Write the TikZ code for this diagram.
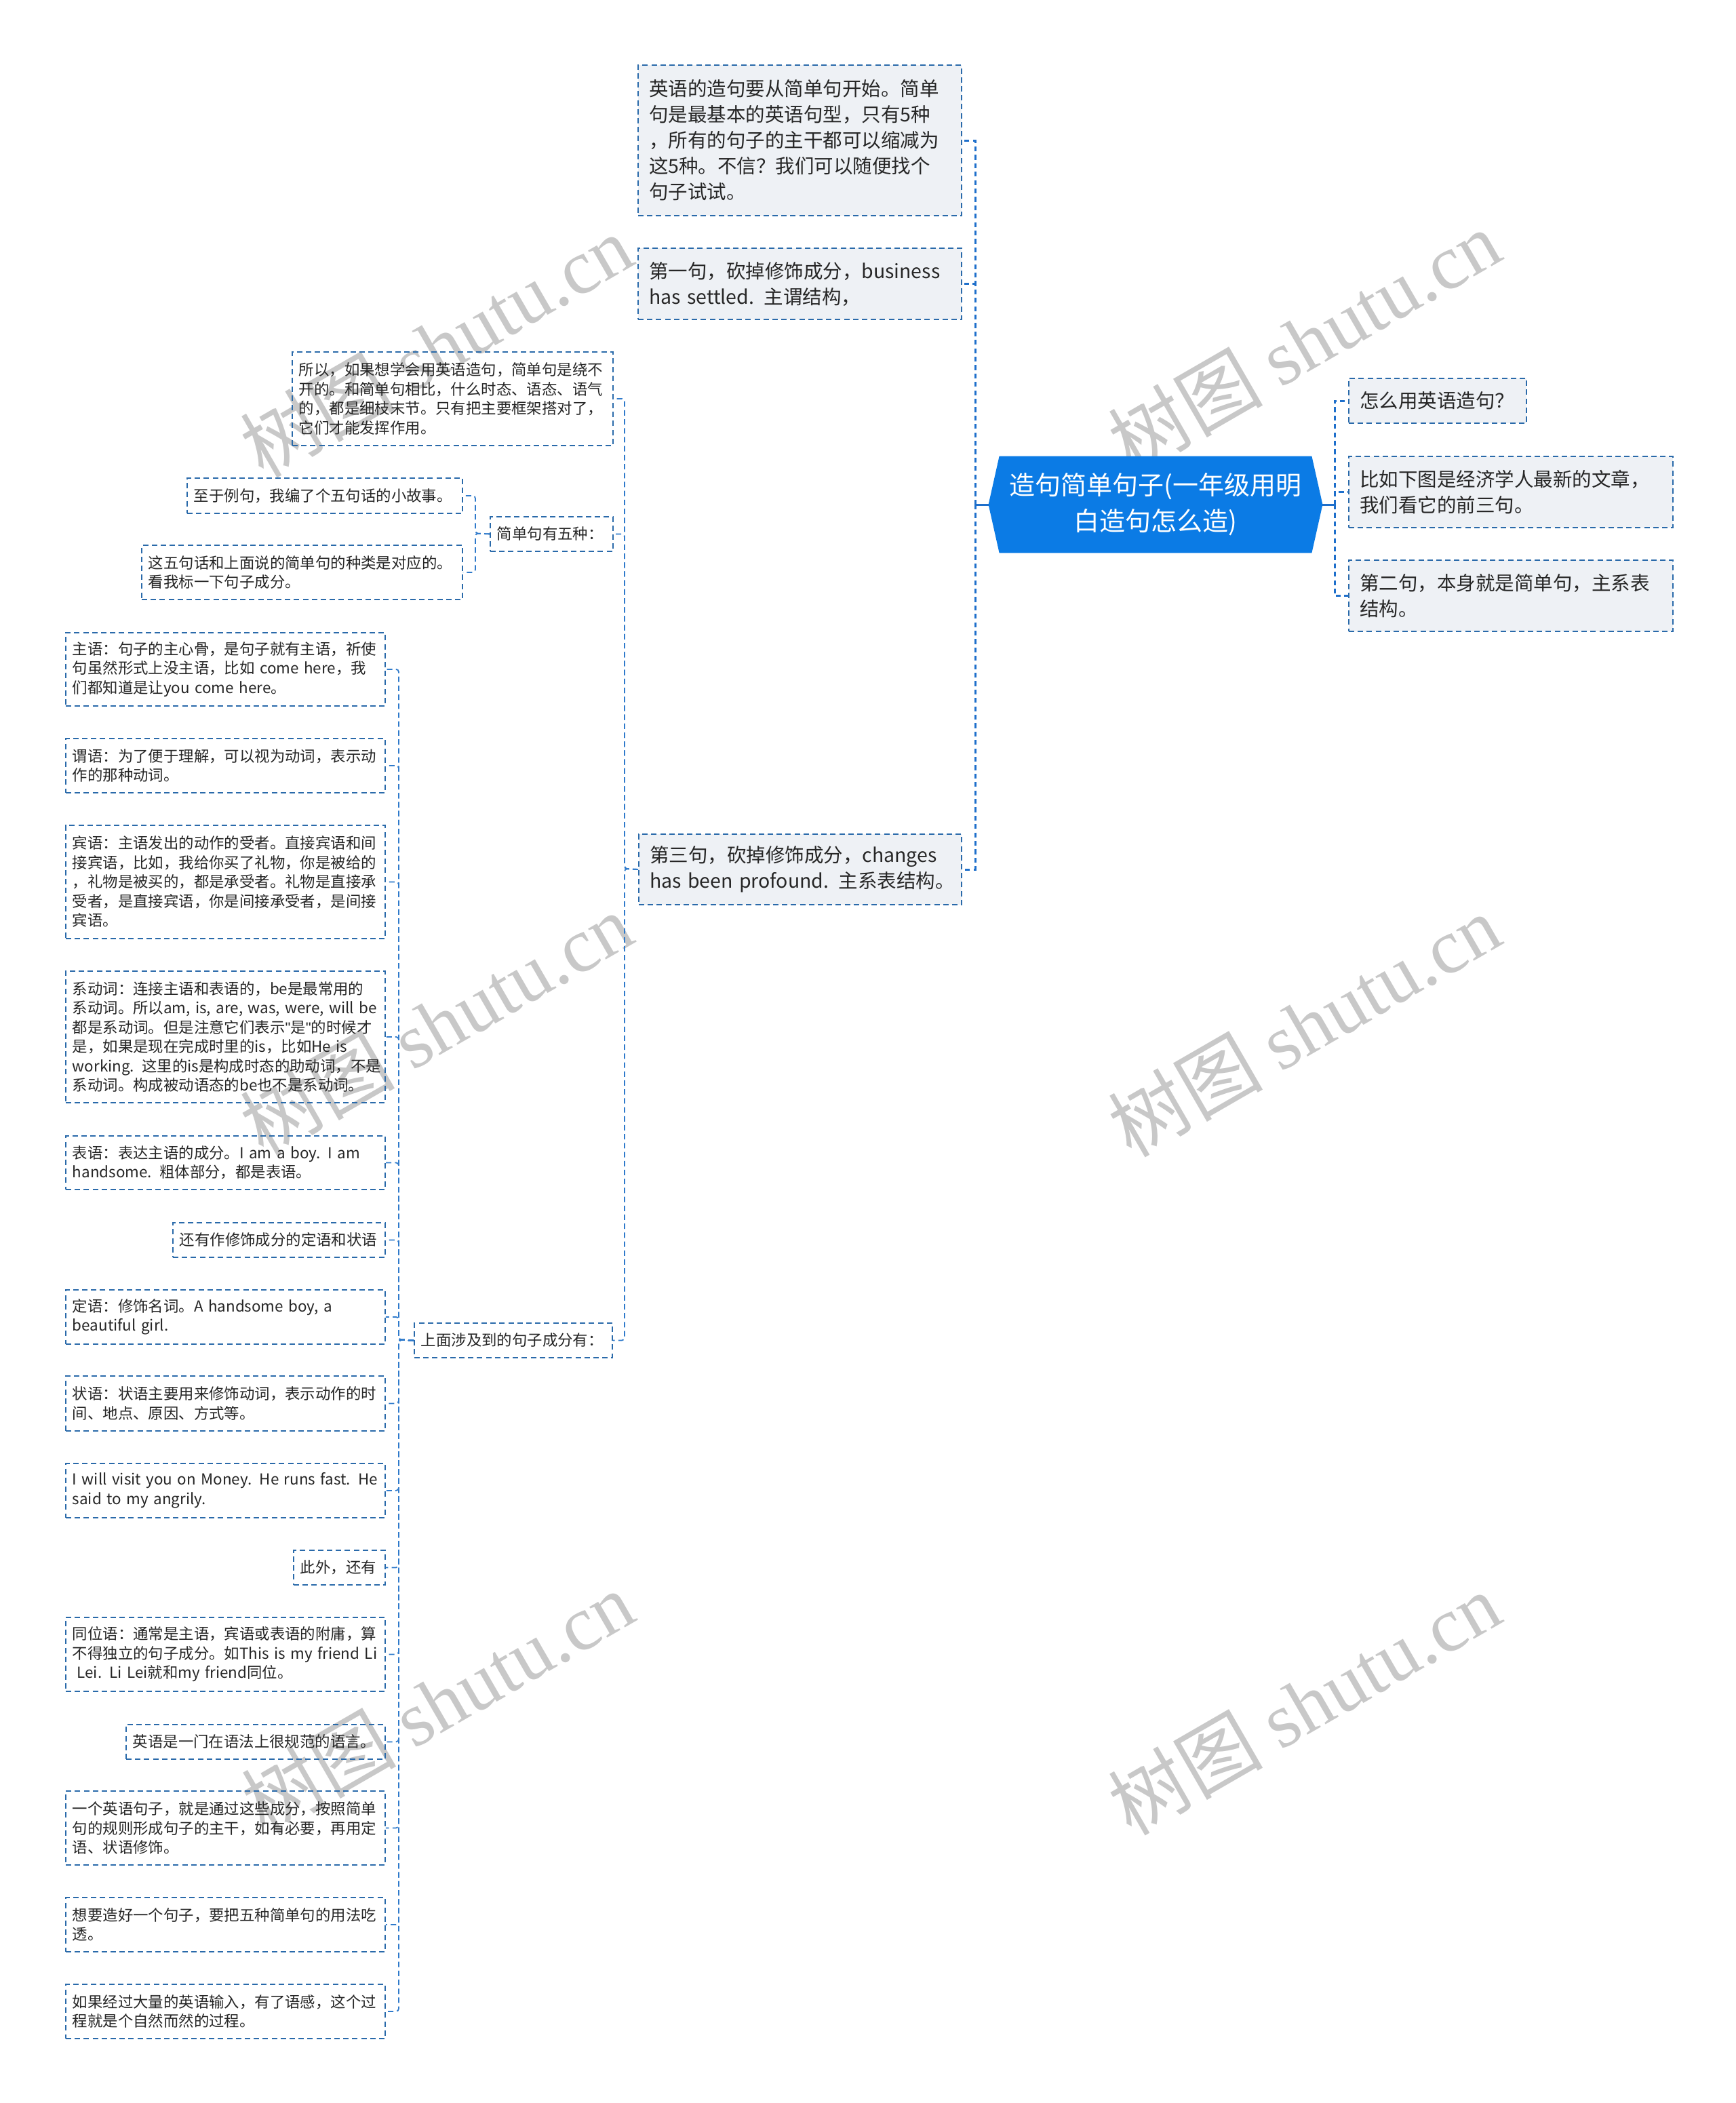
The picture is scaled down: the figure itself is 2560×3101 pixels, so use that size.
\documentclass[tikz,border=0pt]{standalone}
\usepackage{fontspec}
\setmainfont{Noto Sans CJK SC}
\newfontfamily\wmserif{Liberation Serif}
\newfontfamily\latinsans{Liberation Sans}
\usetikzlibrary{backgrounds}
\definecolor{rootblue}{HTML}{0B7BE5}
\definecolor{trunkblue}{HTML}{1E6FCB}
\definecolor{boxline}{HTML}{2A6AAA}
\definecolor{boxfill}{HTML}{EEF1F5}
\definecolor{connblue}{HTML}{2F7ACB}
\definecolor{wmgray}{HTML}{C8C8C8}
\newcommand\lnbox[1]{\mbox{#1}}
\newcommand\sq{{\latinsans"}}
\begin{document}
\begin{tikzpicture}[x=0.5pt,y=-0.5pt,
  lvlone/.style={draw=boxline, line width=1pt, dash pattern=on 4pt off 2.6pt, fill=boxfill, anchor=north west, inner xsep=8pt, inner ysep=0pt, align=left, font=\fontsize{14.25pt}{19pt}\selectfont, text=black!85},
  lvltwo/.style={draw=boxline, line width=0.9pt, dash pattern=on 4pt off 2.6pt, anchor=north west, inner xsep=5pt, inner ysep=0pt, align=left, font=\fontsize{11.2pt}{14.25pt}\selectfont, text=black!85},
  rootnode/.style={inner sep=0pt, minimum width=230pt, minimum height=71pt, align=center, text=white, font=\fontsize{19pt}{26.5pt}\selectfont},
  trunkline/.style={draw=trunkblue, line width=1.5pt, dash pattern=on 3.6pt off 2.6pt},
  stubline/.style={draw=trunkblue, line width=1.5pt},
  connline/.style={draw=connblue, line width=0.9pt, dash pattern=on 4pt off 2.6pt, rounded corners=2pt},
  watermark/.style={text=wmgray, rotate=30, font=\fontsize{57pt}{60pt}\selectfont, inner sep=0pt}
]
% root
\node[rootnode] (root) at (1704,744) {造句简单句子(一年级用明\\白造句怎么造)};
\coordinate (rootWtip) at ([xshift=-8pt]root.west);
\coordinate (rootEtip) at ([xshift=8pt]root.east);
\coordinate (rl) at (1438,744);
\coordinate (rr) at (1968,744);

% level one, left
\node[lvlone, text width=222.5pt, minimum height=111pt] (A) at (940,95) {英语的造句要从简单句开始。简单\\句是最基本的英语句型，只有5种\\，所有的句子的主干都可以缩减为\\这5种。不信？我们可以随便找个\\句子试试。};
\node[lvlone, text width=222.5pt, minimum height=52.5pt] (B) at (940,365) {\lnbox{第一句，砍掉修饰成分，business}\\\lnbox{has settled. 主谓结构，}};
\node[lvlone, text width=222pt, minimum height=52pt] (C) at (941,1229) {\lnbox{第三句，砍掉修饰成分，changes}\\\lnbox{has been profound. 主系表结构。}};

% level one, right
\node[lvlone, text width=115pt, minimum height=33pt] (R1) at (1988,557) {怎么用英语造句？};
\node[lvlone, text width=223pt, minimum height=52.5pt] (R2) at (1988,672) {比如下图是经济学人最新的文章，\\我们看它的前三句。};
\node[lvlone, text width=223pt, minimum height=52.5pt] (R3) at (1988,825) {第二句，本身就是简单句，主系表\\结构。};

% level two
\node[lvltwo, text width=226.5pt, minimum height=69pt] (D) at (430,518) {所以，如果想学会用英语造句，简单句是绕不\\开的。和简单句相比，什么时态、语态、语气\\的，都是细枝末节。只有把主要框架搭对了，\\它们才能发挥作用。};
\node[lvltwo, text width=80.5pt, minimum height=25.5pt] (E) at (722,761) {简单句有五种：};
\node[lvltwo, text width=136pt, minimum height=25.5pt] (H) at (610,1950) {上面涉及到的句子成分有：};

% children of E
\node[lvltwo, text width=193pt, minimum height=26pt] (F) at (275,704) {至于例句，我编了个五句话的小故事。};
\node[lvltwo, text width=226.5pt, minimum height=40pt] (G) at (208,803) {这五句话和上面说的简单句的种类是对应的。\\看我标一下句子成分。};

% children of H
\node[lvltwo, text width=225.5pt, minimum height=54pt] (h1) at (96,932) {主语：句子的主心骨，是句子就有主语，祈使\\\lnbox{句虽然形式上没主语，比如 come here，我}\\\lnbox{们都知道是让you come here。}};
\node[lvltwo, text width=225.5pt, minimum height=40pt] (h2) at (96,1088) {谓语：为了便于理解，可以视为动词，表示动\\作的那种动词。};
\node[lvltwo, text width=225.5pt, minimum height=83.5pt] (h3) at (96,1216) {宾语：主语发出的动作的受者。直接宾语和间\\接宾语，比如，我给你买了礼物，你是被给的\\，礼物是被买的，都是承受者。礼物是直接承\\受者，是直接宾语，你是间接承受者，是间接\\宾语。};
\node[lvltwo, text width=225.5pt, minimum height=97pt] (h4) at (96,1431) {\lnbox{系动词：连接主语和表语的，be是最常用的}\\\lnbox{系动词。所以am, is, are, was, were, will be}\\\lnbox{都是系动词。但是注意它们表示\sq 是\sq 的时候才}\\\lnbox{是，如果是现在完成时里的is，比如He is}\\\lnbox{working. 这里的is是构成时态的助动词，不是}\\\lnbox{系动词。构成被动语态的be也不是系动词。}};
\node[lvltwo, text width=225.5pt, minimum height=39.5pt] (h5) at (96,1674) {\lnbox{表语：表达主语的成分。I am a boy. I am}\\\lnbox{handsome. 粗体部分，都是表语。}};
\node[lvltwo, text width=146.5pt, minimum height=25.5pt] (h6) at (254,1802) {还有作修饰成分的定语和状语};
\node[lvltwo, text width=225.5pt, minimum height=40pt] (h7) at (96,1901) {\lnbox{定语：修饰名词。A handsome boy, a}\\\lnbox{beautiful girl.}};
\node[lvltwo, text width=225.5pt, minimum height=40.5pt] (h8) at (96,2028) {状语：状语主要用来修饰动词，表示动作的时\\间、地点、原因、方式等。};
\node[lvltwo, text width=225.5pt, minimum height=40pt] (h9) at (96,2157) {\lnbox{I will visit you on Money. He runs fast. He}\\\lnbox{said to my angrily.}};
\node[lvltwo, text width=57.5pt, minimum height=25.5pt] (h10) at (432,2285) {此外，还有};
\node[lvltwo, text width=225.5pt, minimum height=54.5pt] (h11) at (96,2384) {同位语：通常是主语，宾语或表语的附庸，算\\\lnbox{不得独立的句子成分。如This is my friend Li}\\\lnbox{\hspace*{0.3em}Lei. Li Lei就和my friend同位。}};
\node[lvltwo, text width=181pt, minimum height=25.5pt] (h12) at (185,2542) {英语是一门在语法上很规范的语言。};
\node[lvltwo, text width=225.5pt, minimum height=54.5pt] (h13) at (96,2640) {一个英语句子，就是通过这些成分，按照简单\\句的规则形成句子的主干，如有必要，再用定\\语、状语修饰。};
\node[lvltwo, text width=225.5pt, minimum height=40pt] (h14) at (96,2797) {想要造好一个句子，要把五种简单句的用法吃\\透。};
\node[lvltwo, text width=225.5pt, minimum height=40pt] (h15) at (96,2925) {如果经过大量的英语输入，有了语感，这个过\\程就是个自然而然的过程。};

% connectors
\draw[stubline] (rootWtip) -- (rl);
\draw[stubline] (rootEtip) -- (rr);
\foreach \n in {A,B,C} \draw[trunkline] (rl) |- (\n.east);
\foreach \n in {R1,R2,R3} \draw[trunkline] (rr) |- (\n.west);
\coordinate (cl) at (921,1281);
\coordinate (el) at (701,786.5);
\coordinate (hl) at (588,1975.5);
\foreach \n in {D,E,H} \draw[connline] (C.west) -- (cl) |- (\n.east);
\foreach \n in {F,G} \draw[connline] (E.west) -- (el) |- (\n.east);
\foreach \i in {1,...,15} \draw[connline] (H.west) -- (hl) |- (h\i.east);

% background
\begin{scope}[on background layer]
\fill[white] (0,0) rectangle (2560,3101);
\node[watermark] (wm1) at (643,510) {树图 {\wmserif shutu.cn}};
\node[watermark] (wm2) at (1923,503) {树图 {\wmserif shutu.cn}};
\node[watermark] (wm3) at (643,1510) {树图 {\wmserif shutu.cn}};
\node[watermark] (wm4) at (1923,1512) {树图 {\wmserif shutu.cn}};
\node[watermark] (wm5) at (645,2510) {树图 {\wmserif shutu.cn}};
\node[watermark] (wm6) at (1923,2512) {树图 {\wmserif shutu.cn}};
\fill[rootblue] (root.north west) -- (root.north east) -- (rootEtip) -- (root.south east) -- (root.south west) -- (rootWtip) -- cycle;
\end{scope}
\end{tikzpicture}
\end{document}
